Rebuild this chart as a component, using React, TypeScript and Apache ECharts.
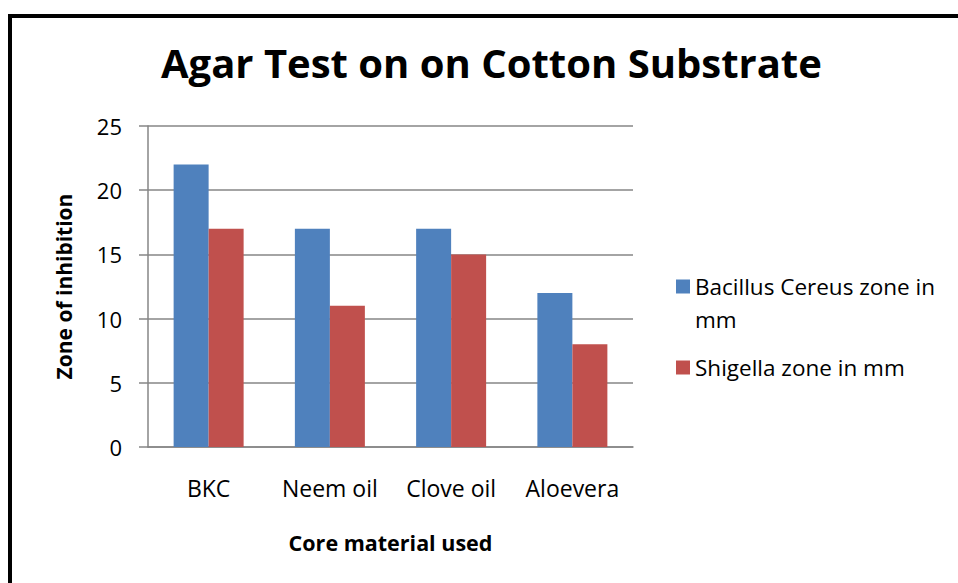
import React, { useEffect, useRef } from "react";
import * as echarts from "echarts";

const categories = ["BKC", "Neem oil", "Clove oil", "Aloevera"];
const bacillus = [22, 17, 17, 12];
const shigella = [17, 11, 15, 8];
const seriesNames = ["Bacillus Cereus zone in mm", "Shigella zone in mm"];
const yTicks = { min: 0, max: 25, interval: 5 };

const FONT = "Open Sans";

export default function App() {
  const ref = useRef<HTMLDivElement>(null);
  useEffect(() => {
    if (!ref.current) return;
    const chart = echarts.init(ref.current, undefined, { renderer: "svg" });
    const axisGray = "#868686";
    chart.setOption({
      animation: false,
      backgroundColor: "#ffffff",
      textStyle: { fontFamily: FONT, color: "#000" },
      title: {
        text: "Agar Test on on Cotton Substrate",
        left: 156,
        top: 37,
        textStyle: { fontFamily: FONT, fontWeight: "bold", fontSize: 40, color: "#000" },
      },
      graphic: [
        { type: "rect", shape: { x: 8, y: 14, width: 4, height: 575 }, style: { fill: "#000" } },
        { type: "rect", shape: { x: 8, y: 14, width: 960, height: 4 }, style: { fill: "#000" } },
      ],
      legend: [
        {
          data: [seriesNames[0]],
          left: 671,
          top: 232,
          itemWidth: 14,
          itemHeight: 14,
          itemGap: 7,
          icon: "rect",
          formatter: () => " \nBacillus Cereus zone in\nmm",
          textStyle: { fontFamily: FONT, fontSize: 22.5, lineHeight: 33, color: "#000" },
        },
        {
          data: [seriesNames[1]],
          left: 671,
          top: 346,
          itemWidth: 14,
          itemHeight: 14,
          icon: "rect",
          textStyle: { fontFamily: FONT, fontSize: 22.5, lineHeight: 33, color: "#000" },
        },
      ],
      grid: { left: 148, right: 325, top: 126, bottom: 136, containLabel: false },
      xAxis: {
        type: "category",
        data: categories,
        name: "Core material used",
        nameLocation: "middle",
        nameGap: 84,
        nameTextStyle: { fontFamily: FONT, fontWeight: "bold", fontSize: 21.5, color: "#000" },
        axisLine: { show: true, lineStyle: { color: axisGray, width: 1.5 } },
        axisTick: { show: false },
        axisLabel: { interval: 0, fontFamily: FONT, fontSize: 23, color: "#000", margin: 29 },
      },
      yAxis: {
        type: "value",
        min: yTicks.min,
        max: yTicks.max,
        interval: yTicks.interval,
        name: "Zone of inhibition",
        nameLocation: "middle",
        nameGap: 74,
        nameTextStyle: { fontFamily: FONT, fontWeight: "bold", fontSize: 21, color: "#000" },
        axisLine: { show: true, lineStyle: { color: axisGray, width: 1.5 } },
        axisTick: { show: true, length: 9, lineStyle: { color: axisGray, width: 1.5 } },
        splitLine: { show: true, lineStyle: { color: axisGray, width: 1.5 } },
        axisLabel: { fontFamily: FONT, fontSize: 22, color: "#000", margin: 26 },
      },
      series: [
        {
          name: seriesNames[0],
          type: "bar",
          data: bacillus,
          barWidth: 35,
          barGap: "0%",
          itemStyle: { color: "#4F81BD" },
        },
        {
          name: seriesNames[1],
          type: "bar",
          data: shigella,
          barWidth: 35,
          barGap: "0%",
          itemStyle: { color: "#C0504D" },
        },
      ],
    });
    return () => chart.dispose();
  }, []);
  return (
    <div
      ref={ref}
      style={{ position: "fixed", left: 0, top: 0, width: 958, height: 583 }}
    />
  );
}
